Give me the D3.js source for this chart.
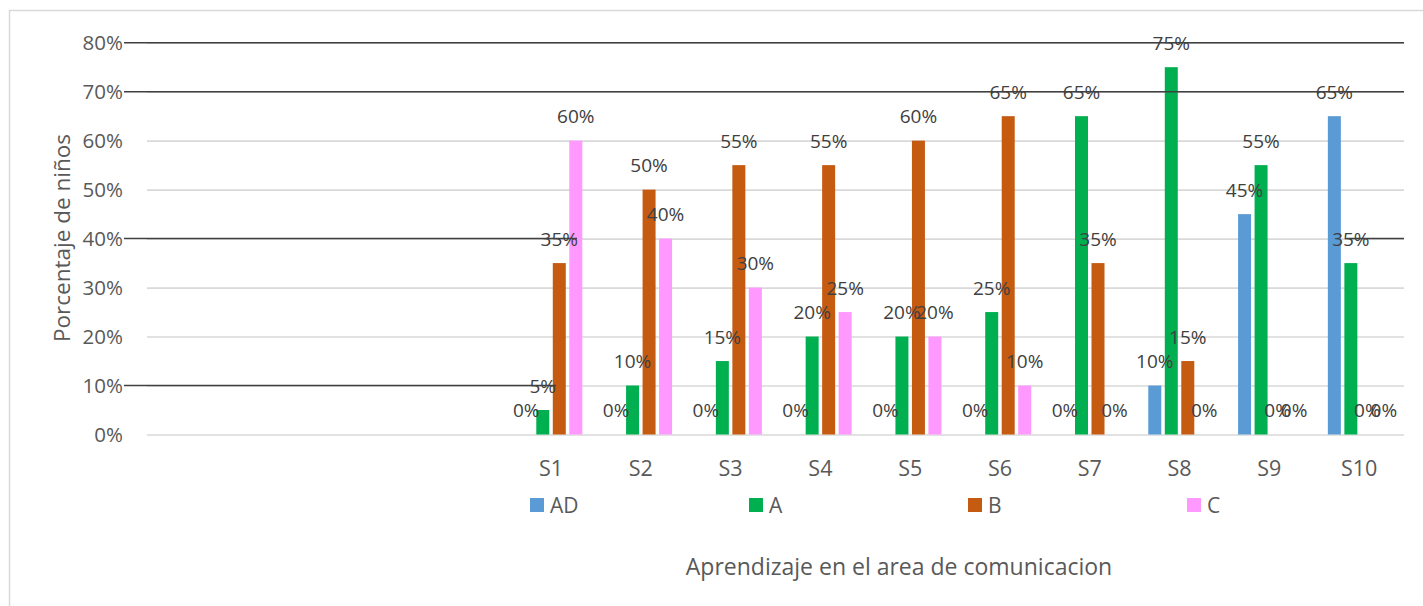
<!DOCTYPE html>
<html>
<head>
<meta charset="utf-8">
<script src="https://cdn.jsdelivr.net/npm/d3@7"></script>
<style>
  html, body { margin: 0; padding: 0; background: #ffffff; }
  svg { display: block; }
  text { font-family: "Open Sans", "Noto Sans", sans-serif; }
</style>
</head>
<body>
<svg id="chart" width="1423" height="606"></svg>
<script>
// ---------- data ----------
const categories = ["S1", "S2", "S3", "S4", "S5", "S6", "S7", "S8", "S9", "S10"];
const leadingBlankSlots = 4;           // empty category slots before S1
const seriesNames = ["AD", "A", "B", "C"];
const seriesColors = ["#5B9BD5", "#00B050", "#C55A11", "#FF99FF"];
const valuesAD = [0, 0, 0, 0, 0, 0, 0, 10, 45, 65];
const valuesA  = [5, 10, 15, 20, 20, 25, 65, 75, 55, 35];
const valuesB  = [35, 50, 55, 55, 60, 65, 35, 15, 0, 0];
const valuesC  = [60, 40, 30, 25, 20, 10, 0, 0, 0, 0];
const yTicks = [0, 10, 20, 30, 40, 50, 60, 70, 80];
const yTickLabels = ["0%", "10%", "20%", "30%", "40%", "50%", "60%", "70%", "80%"];
const emphasizedTicks = [80, 70, 40, 10]; // dark overlaid lines
const yTitle = "Porcentaje de niños";
const xTitle = "Aprendizaje en el area de comunicacion";

// ---------- layout ----------
const W = 1423, H = 606;
const plotLeft = 147, plotRight = 1404, plotTop = 42.7, plotBottom = 434.5;

const svg = d3.select("#chart");

// outer chart border
svg.append("rect")
  .attr("x", 9.5).attr("y", 10.5)
  .attr("width", W + 10).attr("height", H + 10)
  .attr("fill", "#ffffff")
  .attr("stroke", "#D9D9D9").attr("stroke-width", 1.5);

const blanks = d3.range(leadingBlankSlots).map(i => "_blank" + i);
const x0 = d3.scaleBand()
  .domain(blanks.concat(categories))
  .range([plotLeft, plotRight])
  .padding(0);

const groupWidth = x0.step() * 0.696;
const x1 = d3.scaleBand()
  .domain(seriesNames)
  .range([0, groupWidth])
  .paddingInner(0.212)
  .paddingOuter(0);

const y = d3.scaleLinear().domain([0, 80]).range([plotBottom, plotTop]);

// gridlines
const yAxis = d3.axisLeft(y)
  .tickValues(yTicks)
  .tickSize(-(plotRight - plotLeft))
  .tickFormat((d, i) => yTickLabels[i])
  .tickPadding(24);

const gy = svg.append("g")
  .attr("transform", `translate(${plotLeft},0)`)
  .call(yAxis);
gy.select(".domain").remove();
gy.selectAll(".tick line")
  .attr("stroke", "#D9D9D9").attr("stroke-width", 1.6);
gy.selectAll(".tick text")
  .attr("fill", "#595959")
  .style("font-size", "20.5px")
  .attr("x", -(plotLeft - 123))
  .attr("dy", "0.35em");

// series data table
const seriesValues = [valuesAD, valuesA, valuesB, valuesC];
const rows = categories.map((c, i) => ({
  cat: c,
  vals: seriesNames.map((s, k) => ({ key: s, value: seriesValues[k][i], color: seriesColors[k] }))
}));

const groupOffset = (x0.step() - groupWidth) / 2;

const groups = svg.append("g").selectAll("g")
  .data(rows).join("g")
  .attr("transform", d => `translate(${x0(d.cat) + groupOffset},0)`);

groups.selectAll("rect")
  .data(d => d.vals.filter(v => v.value > 0))
  .join("rect")
  .attr("x", d => x1(d.key))
  .attr("width", x1.bandwidth())
  .attr("y", d => y(d.value))
  .attr("height", d => y(0) - y(d.value))
  .attr("fill", d => d.color);

// data labels
groups.selectAll("text")
  .data(d => d.vals)
  .join("text")
  .attr("x", d => x1(d.key) + x1.bandwidth() / 2)
  .attr("y", d => y(d.value) - 17.5)
  .attr("text-anchor", "middle")
  .attr("fill", "#404040")
  .style("font-size", "19px")
  .text(d => d.value + "%");

// dark emphasized lines (drawn over labels, as in the reference)
const firstCat = categories[0], lastCat = categories[categories.length - 1];
const cx = c => x0(c) + x0.step() / 2;
const darkSegments = [];
emphasizedTicks.forEach(t => {
  if (t === 80 || t === 70) darkSegments.push({ v: t, a: plotLeft - 23, b: plotRight });
  if (t === 40) {
    darkSegments.push({ v: t, a: plotLeft - 23, b: cx(firstCat) + 26 });
    darkSegments.push({ v: t, a: cx(lastCat) - 12, b: plotRight });
  }
  if (t === 10) darkSegments.push({ v: t, a: plotLeft - 23, b: cx(firstCat) + 5 });
});
svg.append("g").selectAll("line")
  .data(darkSegments).join("line")
  .attr("x1", d => d.a).attr("x2", d => d.b)
  .attr("y1", d => y(d.v)).attr("y2", d => y(d.v))
  .attr("stroke", "#404040").attr("stroke-width", 1.5);

// x axis labels
svg.append("g").selectAll("text")
  .data(categories).join("text")
  .attr("x", d => cx(d))
  .attr("y", 468)
  .attr("dy", "0.35em")
  .attr("text-anchor", "middle")
  .attr("fill", "#595959")
  .style("font-size", "21.5px")
  .text(d => d);

// legend
const legendX = d3.scalePoint().domain(seriesNames).range([530, 1187]);
const lg = svg.append("g").selectAll("g")
  .data(seriesNames).join("g")
  .attr("transform", d => `translate(${legendX(d)},498)`);
lg.append("rect")
  .attr("width", 14).attr("height", 14)
  .attr("fill", (d, i) => seriesColors[i]);
lg.append("text")
  .attr("x", 20).attr("y", 7.5)
  .attr("dy", "0.35em")
  .attr("fill", "#595959")
  .style("font-size", "21px")
  .text(d => d);

// axis titles
svg.append("text")
  .attr("transform", `translate(62,238) rotate(-90)`)
  .attr("text-anchor", "middle")
  .attr("dy", "0.35em")
  .attr("fill", "#595959")
  .style("font-size", "22.5px")
  .text(yTitle);

svg.append("text")
  .attr("x", 899).attr("y", 567)
  .attr("dy", "0.35em")
  .attr("text-anchor", "middle")
  .attr("fill", "#595959")
  .style("font-size", "23px")
  .text(xTitle);
</script>
</body>
</html>
